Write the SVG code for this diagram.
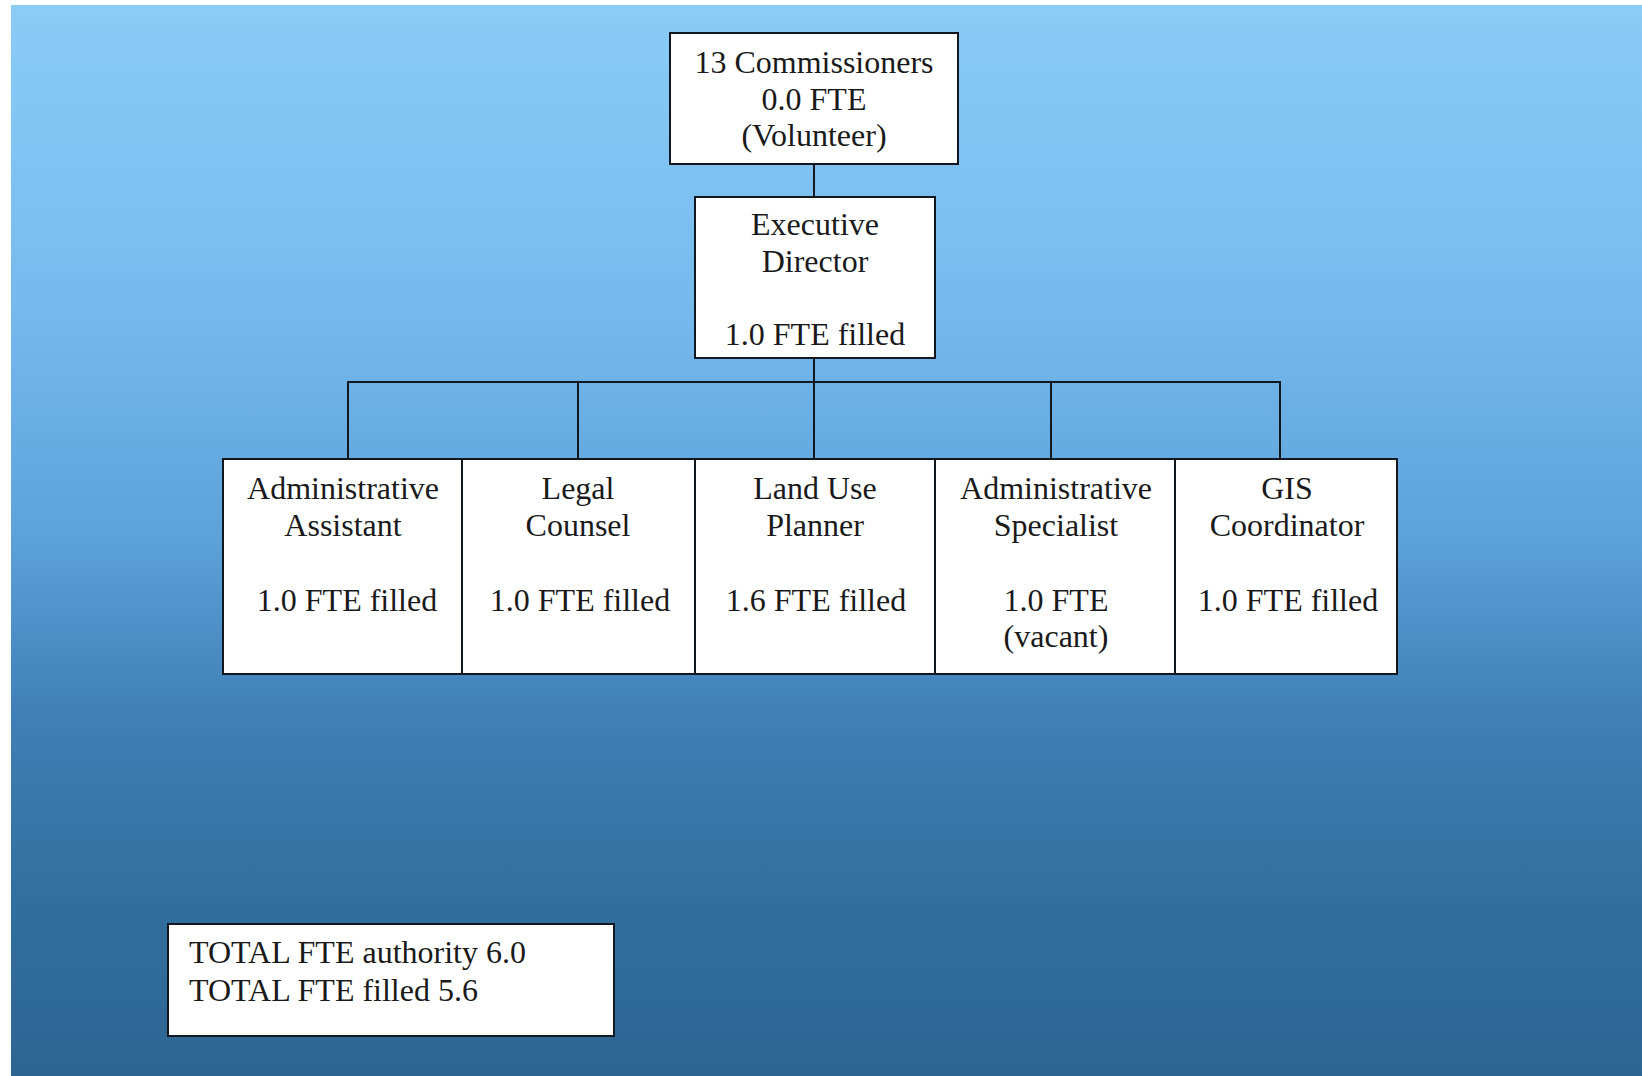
<svg xmlns="http://www.w3.org/2000/svg" width="1642" height="1076" viewBox="0 0 1642 1076">
<defs>
<linearGradient id="bg" x1="0" y1="0" x2="0" y2="1">
<stop offset="0" stop-color="#8bccf6"/>
<stop offset="0.28" stop-color="#76baee"/>
<stop offset="0.5" stop-color="#5ca1d8"/>
<stop offset="0.66" stop-color="#4080b6"/>
<stop offset="0.82" stop-color="#33709f"/>
<stop offset="1" stop-color="#2d6592"/>
</linearGradient>
<style>
.box{fill:#ffffff;stroke:#111820;stroke-width:2}
.t{font-family:"Liberation Serif","Times New Roman",serif;font-size:32px;fill:#1a1a1a;text-anchor:middle}
.tl{font-family:"Liberation Serif","Times New Roman",serif;font-size:32px;fill:#1a1a1a}
.c{stroke:#111820;stroke-width:2;fill:none}
</style>
</defs>
<rect x="0" y="0" width="1642" height="1076" fill="#ffffff"/>
<rect x="11" y="5" width="1631" height="1071" fill="url(#bg)"/>
<g id="connectors">
<line class="c" x1="814" y1="164" x2="814" y2="197"/>
<line class="c" x1="814" y1="358" x2="814" y2="459"/>
<polyline class="c" points="348,459 348,382 1280,382 1280,459"/>
<line class="c" x1="578" y1="382" x2="578" y2="459"/>
<line class="c" x1="1051" y1="382" x2="1051" y2="459"/>
</g>
<g id="commissioners">
<rect class="box" x="670" y="33" width="288" height="131"/>
<text class="t" x="814" y="73">13 Commissioners</text>
<text class="t" x="814" y="110">0.0 FTE</text>
<text class="t" x="814" y="146">(Volunteer)</text>
</g>
<g id="executive-director">
<rect class="box" x="695" y="197" width="240" height="161"/>
<text class="t" x="815" y="235">Executive</text>
<text class="t" x="815" y="272">Director</text>
<text class="t" x="815" y="345">1.0 FTE filled</text>
</g>
<g id="admin-assistant">
<rect class="box" x="223" y="459" width="239" height="215"/>
<text class="t" x="343" y="499">Administrative</text>
<text class="t" x="343" y="536">Assistant</text>
<text class="t" x="347" y="611">1.0 FTE filled</text>
</g>
<g id="legal-counsel">
<rect class="box" x="462" y="459" width="233" height="215"/>
<text class="t" x="578" y="499">Legal</text>
<text class="t" x="578" y="536">Counsel</text>
<text class="t" x="580" y="611">1.0 FTE filled</text>
</g>
<g id="land-use-planner">
<rect class="box" x="695" y="459" width="240" height="215"/>
<text class="t" x="815" y="499">Land Use</text>
<text class="t" x="815" y="536">Planner</text>
<text class="t" x="816" y="611">1.6 FTE filled</text>
</g>
<g id="admin-specialist">
<rect class="box" x="935" y="459" width="240" height="215"/>
<text class="t" x="1056" y="499">Administrative</text>
<text class="t" x="1056" y="536">Specialist</text>
<text class="t" x="1056" y="611">1.0 FTE</text>
<text class="t" x="1056" y="647">(vacant)</text>
</g>
<g id="gis-coordinator">
<rect class="box" x="1175" y="459" width="222" height="215"/>
<text class="t" x="1287" y="499">GIS</text>
<text class="t" x="1287" y="536">Coordinator</text>
<text class="t" x="1288" y="611">1.0 FTE filled</text>
</g>
<g id="totals">
<rect class="box" x="168" y="924" width="446" height="112"/>
<text class="tl" x="189" y="963">TOTAL FTE authority 6.0</text>
<text class="tl" x="189" y="1001">TOTAL FTE filled 5.6</text>
</g>
</svg>
